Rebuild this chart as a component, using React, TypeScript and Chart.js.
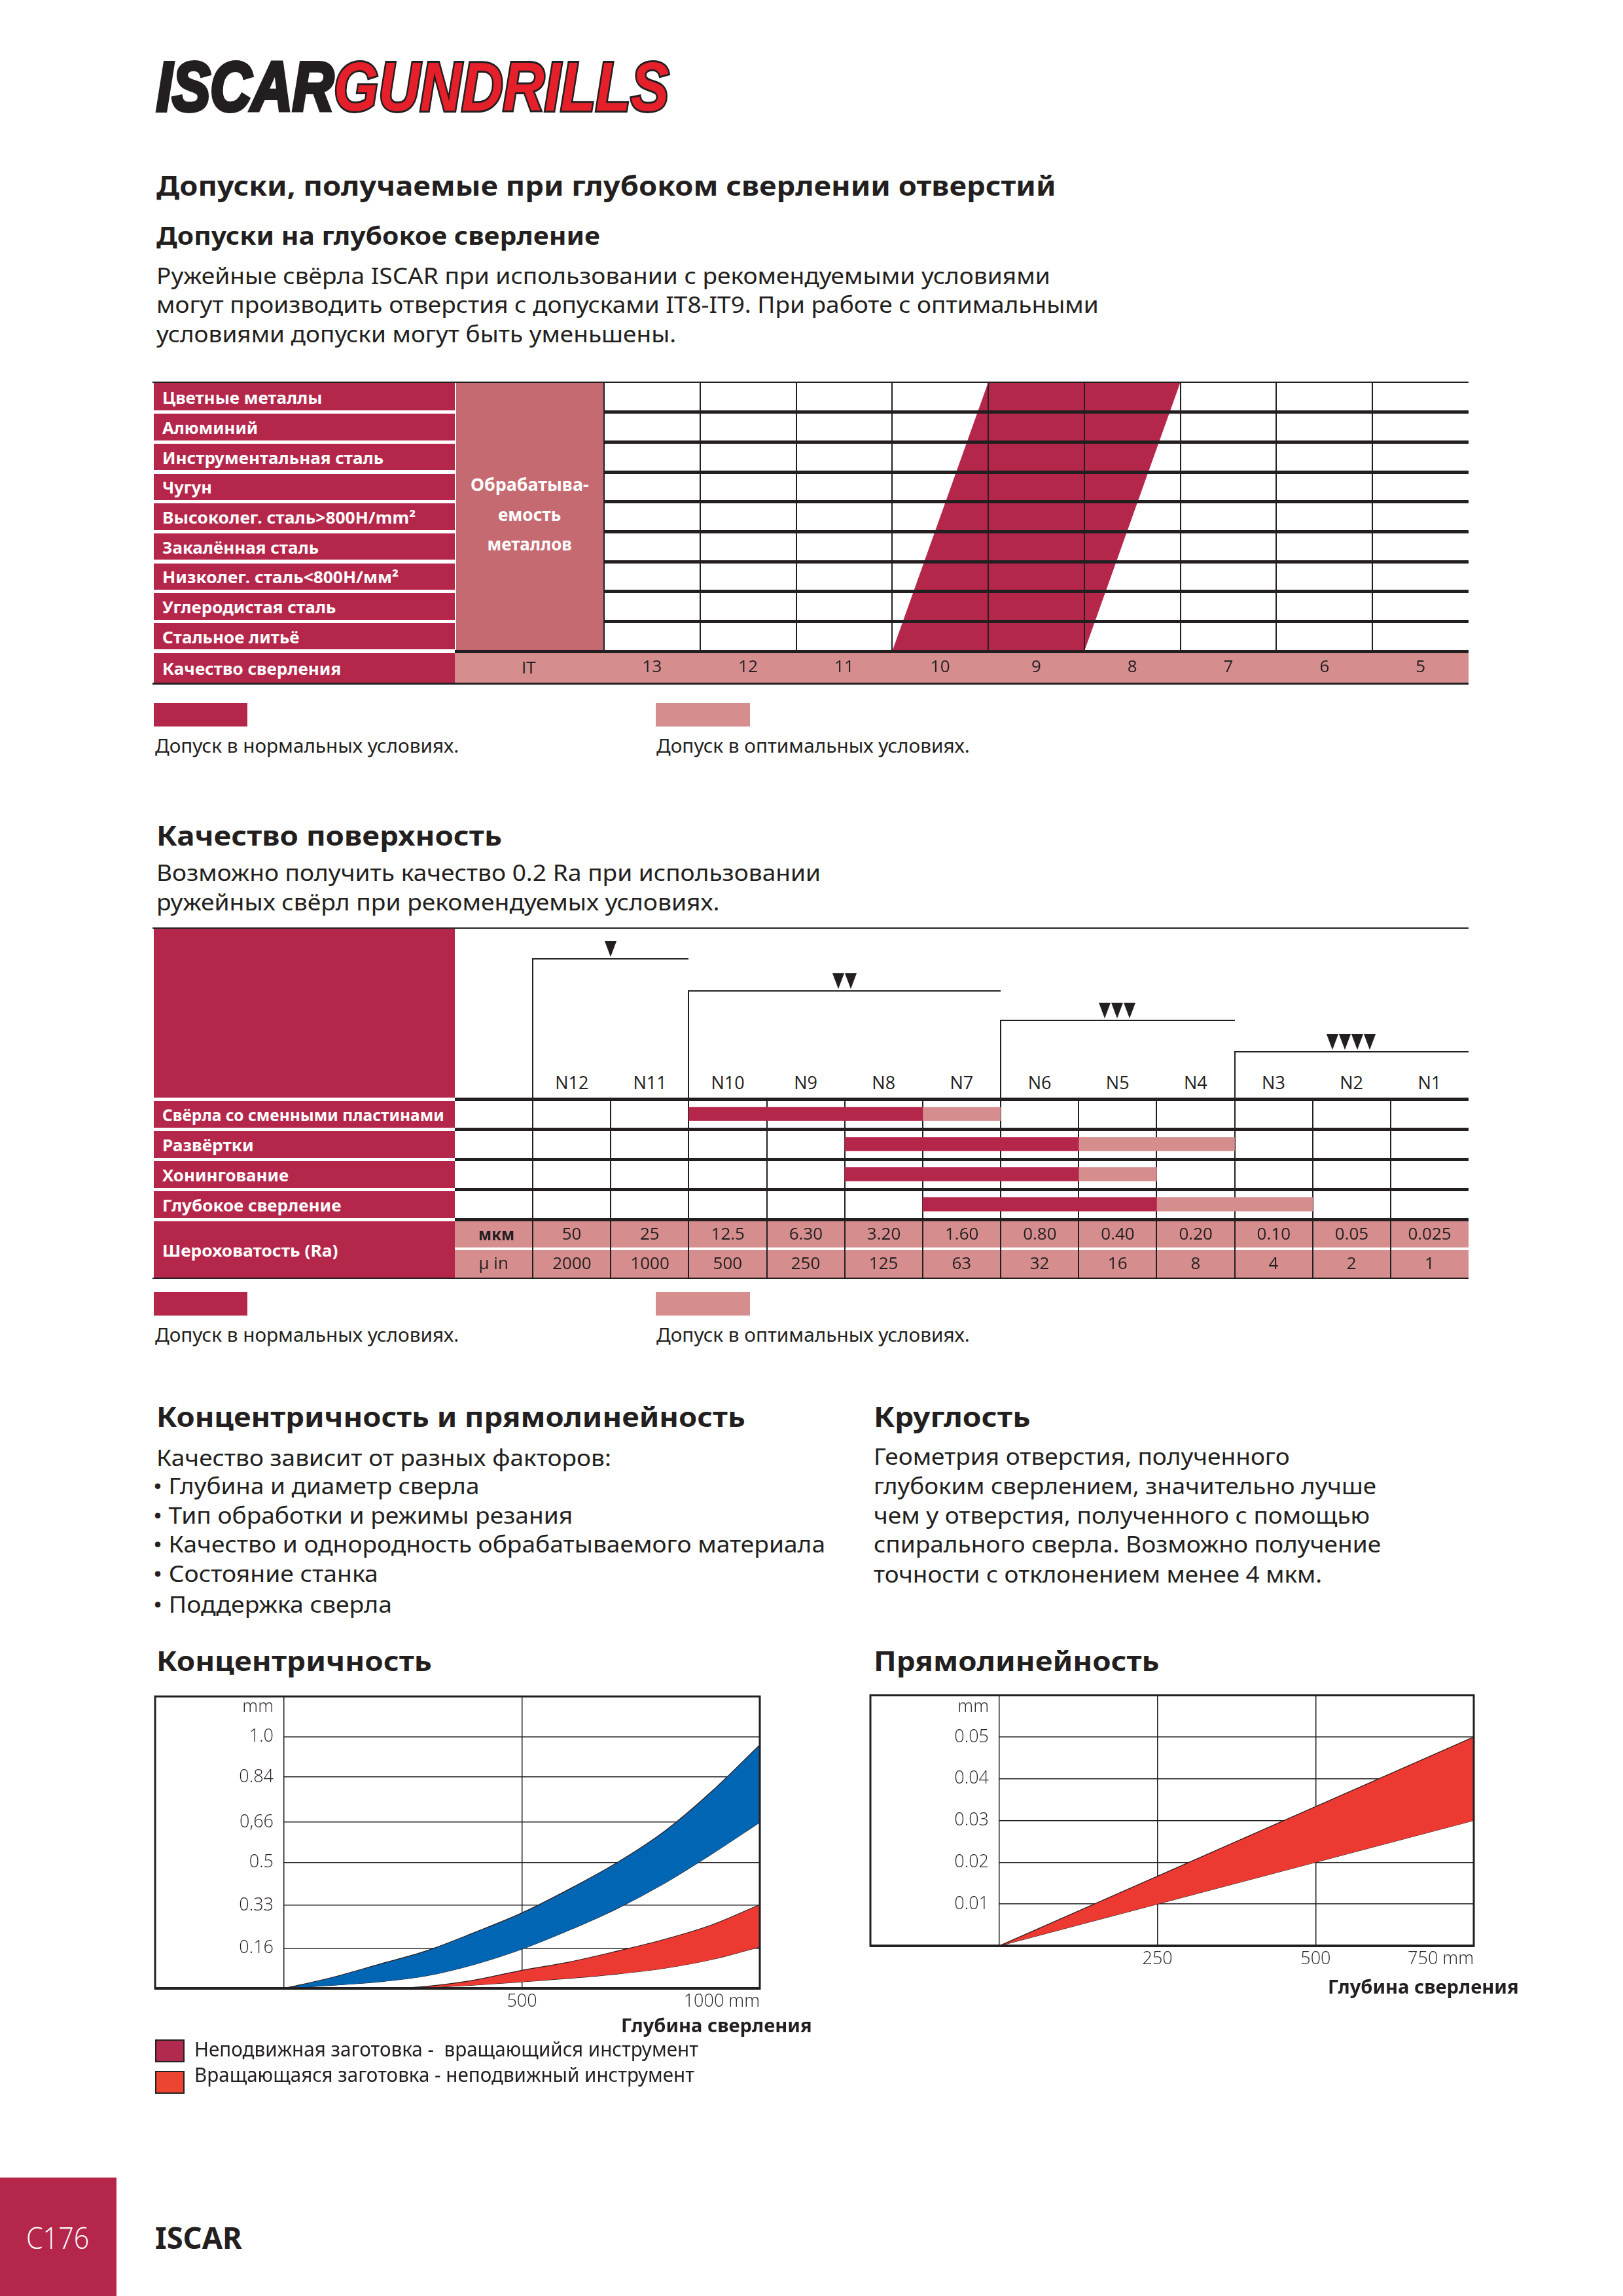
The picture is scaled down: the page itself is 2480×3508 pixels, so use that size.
import React, { useEffect, useLayoutEffect, useRef } from 'react';
import { Chart, registerables } from 'chart.js';

Chart.register(...registerables);

// ---------------- data ----------------
const materials = [
  'Цветные металлы',
  'Алюминий',
  'Инструментальная сталь',
  'Чугун',
  'Высоколег. сталь>800H/mm²',
  'Закалённая сталь',
  'Низколег. сталь<800H/мм²',
  'Углеродистая сталь',
  'Стальное литьё',
];
const itGrades = [13, 12, 11, 10, 9, 8, 7, 6, 5];
// IT grades covered by the normal-conditions band in the first and last material rows
const bandTopRowGrades = [9, 8];
const bandBottomRowGrades = [10, 9];

const processes = ['Свёрла со сменными пластинами', 'Развёртки', 'Хонингование', 'Глубокое сверление'];
const nGrades = ['N12', 'N11', 'N10', 'N9', 'N8', 'N7', 'N6', 'N5', 'N4', 'N3', 'N2', 'N1'];
const normalRange = [['N10', 'N8'], ['N8', 'N6'], ['N8', 'N6'], ['N7', 'N5']];
const optimalRange = [['N7', 'N7'], ['N5', 'N4'], ['N5', 'N5'], ['N4', 'N3']];
const raMkm = ['50', '25', '12.5', '6.30', '3.20', '1.60', '0.80', '0.40', '0.20', '0.10', '0.05', '0.025'];
const raMicroIn = ['2000', '1000', '500', '250', '125', '63', '32', '16', '8', '4', '2', '1'];
const qualityGroups = [
  { from: 'N12', to: 'N11', marks: 1 },
  { from: 'N10', to: 'N7', marks: 2 },
  { from: 'N6', to: 'N4', marks: 3 },
  { from: 'N3', to: 'N1', marks: 4 },
];

const concDepth = [0, 100, 200, 300, 400, 500, 600, 700, 800, 900, 1000];
const concBlueUpper = [0, 0.043, 0.096, 0.15, 0.222, 0.3, 0.395, 0.5, 0.625, 0.785, 0.968];
const concBlueLower = [0, 0.012, 0.026, 0.05, 0.095, 0.156, 0.232, 0.317, 0.418, 0.535, 0.66];
const concRedDepth = [243, 300, 400, 500, 600, 700, 800, 900, 1000];
const concRedUpper = [0, 0.008, 0.033, 0.072, 0.105, 0.148, 0.195, 0.253, 0.333];
const concRedLower = [0, 0.003, 0.013, 0.026, 0.04, 0.057, 0.08, 0.115, 0.165];
const concYTicks = [0.16, 0.33, 0.5, 0.66, 0.84, 1.0];
const concYLabels = ['0.16', '0.33', '0.5', '0,66', '0.84', '1.0'];
const concXTicks = [500, 1000];

const straightDepth = [0, 750];
const straightUpper = [0, 0.05];
const straightLower = [0, 0.03];
const straightYTicks = [0.01, 0.02, 0.03, 0.04, 0.05];
const straightYLabels = ['0.01', '0.02', '0.03', '0.04', '0.05'];
const straightXTicks = [250, 500, 750];

const concFactors = [
  'Качество зависит от разных факторов:',
  '• Глубина и диаметр сверла',
  '• Тип обработки и режимы резания',
  '• Качество и однородность обрабатываемого материала',
  '• Состояние станка',
  '• Поддержка сверла',
];
const roundnessText = [
  'Геометрия отверстия, полученного',
  'глубоким сверлением, значительно лучше',
  'чем у отверстия, полученного с помощью',
  'спирального сверла. Возможно получение',
  'точности с отклонением менее 4 мкм.',
];

// ---------------- styles / layout ----------------
const INK = '#231f20';
const RED = '#b5264b';
const ROSE = '#c66a71';
const PINK = '#d58d8e';
const BLUE = '#0066b3';
const BAND_RED = '#ec3a32';
const NONE = 'rgba(0,0,0,0)';
const SANS = "'Noto Sans', 'Open Sans', 'DejaVu Sans', sans-serif";
const LIGHT = "'Open Sans', 'Noto Sans', sans-serif";
const LOGO = "'Liberation Sans', Arial, sans-serif";
const tickFont = { family: LIGHT, size: 27, weight: '300' as any };

// table 1 geometry
const T1_TOP = 584;
const T1_ROWH = 411 / 9;
const T1_LEFT = 923;
const T1_W = 1321;
const matLabelW = [244, 146, 338, 76, 387, 239, 361, 265, 209];
// table 2 geometry
const T2_LEFT = 695;
const T2_W = 1549;
const COLW = T2_W / 13;
const COL0 = T2_LEFT + COLW;
const T2_ROWS_TOP = 1679;
const T2_ROWH = 46;
const procLabelW = [431, 140, 193, 273];
const bracketLevels = [1465, 1514, 1559, 1607];

// ---------------- helpers ----------------
type TP = {
  x: number; cy: number; w?: number; size: number; weight?: any; color?: string; family?: string;
  k?: number; italic?: boolean; anchor?: 'left' | 'center' | 'right'; style?: any; children: any;
};
function T({ x, cy, w, size, weight = 400, color = INK, family = SANS, k = 0.66, italic, anchor = 'left', style, children }: TP) {
  const ref = useRef<HTMLDivElement>(null);
  useLayoutEffect(() => {
    const fit = () => {
      const el = ref.current;
      if (!el) return;
      const nat = el.offsetWidth;
      const target = w ?? nat;
      const s = nat > 0 ? target / nat : 1;
      let left = x;
      if (anchor === 'center') left = x - target / 2;
      if (anchor === 'right') left = x - target;
      el.style.left = left + 'px';
      el.style.transform = `scaleX(${s})`;
    };
    fit();
    const fonts = (document as any).fonts;
    if (fonts && fonts.ready) fonts.ready.then(fit);
  });
  return (
    <div
      ref={ref}
      style={{
        position: 'absolute', left: x, top: cy - k * size, fontSize: size, lineHeight: 1.2,
        fontFamily: family, fontWeight: weight, color, whiteSpace: 'pre', transformOrigin: 'left top',
        fontStyle: italic ? 'italic' : 'normal', ...style,
      }}
    >
      {children}
    </div>
  );
}

function B({ l, t, w, h, c, style }: any) {
  return <div style={{ position: 'absolute', left: l, top: t, width: w, height: h, background: c, ...style }} />;
}

function ChartCanvas({ left, top, width, height, make }: any) {
  const ref = useRef<HTMLCanvasElement>(null);
  useEffect(() => {
    const chart = new Chart(ref.current as HTMLCanvasElement, make());
    return () => chart.destroy();
  }, []);
  return <canvas ref={ref} width={width} height={height} style={{ position: 'absolute', left, top, width, height }} />;
}

function Marks({ cx, bottom, n }: any) {
  const w = 19;
  const h = 24;
  return (
    <>
      {Array.from({ length: n }).map((_, i) => (
        <div
          key={i}
          style={{
            position: 'absolute', left: cx - (n * w) / 2 + i * w, top: bottom - h, width: 0, height: 0,
            borderLeft: `${w / 2 - 0.5}px solid transparent`, borderRight: `${w / 2 - 0.5}px solid transparent`,
            borderTop: `${h}px solid ${INK}`,
          }}
        />
      ))}
    </>
  );
}

const baseOptions = {
  animation: false,
  responsive: false,
  maintainAspectRatio: false,
  devicePixelRatio: 1,
  events: [],
  plugins: { legend: { display: false }, tooltip: { enabled: false } },
};

function framePlugin(boxLeft: number) {
  return {
    id: 'frame',
    afterDraw(chart: any) {
      const { ctx, chartArea: a } = chart;
      ctx.save();
      ctx.strokeStyle = INK;
      ctx.lineWidth = 3;
      ctx.strokeRect(boxLeft, a.top, a.right - boxLeft, a.bottom - a.top);
      ctx.lineWidth = 4;
      ctx.beginPath();
      ctx.moveTo(boxLeft - 1, a.bottom);
      ctx.lineTo(a.right + 1, a.bottom);
      ctx.stroke();
      ctx.restore();
    },
  };
}

// ---------------- chart configs ----------------
function toleranceConfig(): any {
  const rows = materials.length;
  const poly = [
    { x: bandBottomRowGrades[0] + 0.5, y: 0 },
    { x: bandTopRowGrades[0] + 0.5, y: rows },
    { x: bandTopRowGrades[1] - 0.5, y: rows },
    { x: bandBottomRowGrades[1] - 0.5, y: 0 },
  ];
  return {
    type: 'line',
    data: {
      datasets: [{ data: poly, fill: 'shape', backgroundColor: RED, borderWidth: 0, pointRadius: 0, tension: 0 }],
    },
    options: {
      ...baseOptions,
      layout: { padding: { left: 4, right: 5, top: 4, bottom: 0 } },
      scales: {
        x: {
          type: 'linear', reverse: true,
          min: Math.min(...itGrades) - 0.5, max: Math.max(...itGrades) + 0.5,
          afterBuildTicks: (s: any) => { s.ticks = [...itGrades].sort((a, b) => a - b).map((v) => ({ value: v })); },
          afterFit: (s: any) => { s.height = 50; s.paddingLeft = 0; s.paddingRight = 0; },
          grid: {
            offset: true, drawTicks: false, lineWidth: 2, z: 1,
            color: (c: any) => (c.type === 'tick' && c.index === 0 ? NONE : INK),
          },
          border: { display: false },
          ticks: {
            padding: 9, color: INK, font: { family: LIGHT, size: 26, weight: '400' }, maxRotation: 0, autoSkip: false,
            callback: (v: any) => String(v),
          },
        },
        y: {
          type: 'linear', min: 0, max: rows,
          ticks: { display: false, stepSize: 1 },
          afterFit: (s: any) => { s.width = 0; s.paddingTop = 0; s.paddingBottom = 0; },
          grid: {
            drawTicks: false, color: INK, z: 1,
            lineWidth: (c: any) => (c.tick && c.tick.value === rows ? 2 : 5),
          },
          border: { display: false },
        },
      },
    },
  };
}

function surfaceConfig(): any {
  const idx = (g: string) => nGrades.indexOf(g);
  const toBar = (r: string[]) => [idx(r[0]), idx(r[1]) + 1];
  return {
    type: 'bar',
    data: {
      labels: processes,
      datasets: [
        { label: 'Допуск в нормальных условиях.', data: normalRange.map(toBar), backgroundColor: RED, grouped: false, barThickness: 21, borderWidth: 0 },
        { label: 'Допуск в оптимальных условиях.', data: optimalRange.map(toBar), backgroundColor: PINK, grouped: false, barThickness: 21, borderWidth: 0 },
      ],
    },
    options: {
      ...baseOptions,
      indexAxis: 'y',
      layout: { padding: { left: 4, right: 4, top: 4, bottom: 4 } },
      scales: {
        x: {
          type: 'linear', min: -1, max: nGrades.length,
          ticks: { display: false, stepSize: 1 },
          afterFit: (s: any) => { s.height = 0; s.paddingLeft = 0; s.paddingRight = 0; },
          grid: {
            drawTicks: false, lineWidth: 2,
            color: (c: any) => (c.tick && c.tick.value >= 0 && c.tick.value < nGrades.length ? INK : NONE),
          },
          border: { display: false },
        },
        y: {
          type: 'category', offset: true,
          ticks: { display: false },
          afterFit: (s: any) => { s.width = 0; s.paddingTop = 0; s.paddingBottom = 0; },
          grid: { offset: true, drawTicks: false, lineWidth: 5, color: INK },
          border: { display: false },
        },
      },
    },
  };
}

function bandChartConfig(opts: any): any {
  const { bands, yMax, yTicks, yLabels, unitPos, xMax, xTicks, axisH } = opts;
  const yAll = [0, ...yTicks, unitPos];
  const xAll = [0, ...xTicks];
  const datasets: any[] = [];
  bands.forEach((b: any) => {
    const common = { pointRadius: 0, borderWidth: 1.2, borderColor: '#2b1b1b', cubicInterpolationMode: 'monotone' };
    datasets.push({ ...common, data: b.xs.map((x: number, i: number) => ({ x, y: b.upper[i] })), fill: '+1', backgroundColor: b.color });
    datasets.push({ ...common, data: b.xs.map((x: number, i: number) => ({ x, y: b.lower[i] })), fill: false });
  });
  return {
    type: 'line',
    data: { datasets },
    options: {
      ...baseOptions,
      layout: { padding: { left: 0, right: opts.padRight, top: 7, bottom: 0 } },
      scales: {
        x: {
          type: 'linear', min: 0, max: xMax,
          afterBuildTicks: (s: any) => { s.ticks = xAll.map((v) => ({ value: v })); },
          afterFit: (s: any) => { s.height = axisH; s.paddingLeft = 0; s.paddingRight = 0; },
          ticks: {
            align: 'inner', padding: 4, maxRotation: 0, autoSkip: false, color: INK, font: tickFont,
            callback: (v: any, i: number) => (i === 0 ? '' : i === xAll.length - 1 ? `${v} mm` : String(v)),
          },
          grid: { drawTicks: false, lineWidth: 1.5, color: INK },
          border: { display: false },
        },
        y: {
          type: 'linear', min: 0, max: yMax,
          afterBuildTicks: (s: any) => { s.ticks = yAll.map((v) => ({ value: v })); },
          afterFit: (s: any) => { s.width = 204; s.paddingTop = 0; s.paddingBottom = 0; },
          ticks: {
            padding: 16, color: INK, font: tickFont, autoSkip: false,
            callback: (v: any, i: number) => (i === 0 ? '' : i === yAll.length - 1 ? 'mm' : yLabels[i - 1]),
          },
          grid: {
            drawTicks: false, lineWidth: 1.5,
            color: (c: any) => (c.tick && (c.tick.value === 0 || c.tick.value === unitPos) ? NONE : INK),
          },
          border: { display: false },
        },
      },
    },
    plugins: [framePlugin(7)],
  };
}

function concConfig(): any {
  return bandChartConfig({
    bands: [
      { xs: concDepth, upper: concBlueUpper, lower: concBlueLower, color: BLUE },
      { xs: concRedDepth, upper: concRedUpper, lower: concRedLower, color: BAND_RED },
    ],
    yMax: 1.16, yTicks: concYTicks, yLabels: concYLabels, unitPos: 1.117,
    xMax: 1000, xTicks: concXTicks, axisH: 47, padRight: 19,
  });
}

function straightConfig(): any {
  return bandChartConfig({
    bands: [{ xs: straightDepth, upper: straightUpper, lower: straightLower, color: BAND_RED }],
    yMax: 0.06, yTicks: straightYTicks, yLabels: straightYLabels, unitPos: 0.0572,
    xMax: 750, xTicks: straightXTicks, axisH: 50, padRight: 21,
  });
}

// ---------------- page ----------------
export default function App() {
  useEffect(() => {
    document.body.style.margin = '0';
  }, []);

  const t1Line = (k: number) => T1_TOP + k * T1_ROWH;
  const t2Line = (k: number) => T2_ROWS_TOP + k * T2_ROWH;
  const gIdx = (g: string) => nGrades.indexOf(g);

  return (
    <div style={{ position: 'absolute', left: 0, top: 0, width: 2480, height: 3508, background: '#fff', overflow: 'hidden' }}>
      {/* Logo */}
      <T x={239} cy={131} w={271} size={106} weight={700} italic family={LOGO} k={0.582}
        style={{ WebkitTextStroke: `6px ${INK}`, paintOrder: 'stroke fill', color: INK }}>ISCAR</T>
      <T x={510} cy={131} w={512} size={106} weight={700} italic family={LOGO} k={0.582}
        style={{ WebkitTextStroke: `6px ${INK}`, paintOrder: 'stroke fill', color: '#e5202a' }}>GUNDRILLS</T>

      {/* Intro */}
      <T x={239} cy={286} w={1375} size={42} weight={700}>Допуски, получаемые при глубоком сверлении отверстий</T>
      <T x={239} cy={362} w={678} size={38} weight={700}>Допуски на глубокое сверление</T>
      <T x={239} cy={423} w={1366} size={35}>Ружейные свёрла ISCAR при использовании с рекомендуемыми условиями</T>
      <T x={239} cy={467} w={1440} size={35}>могут производить отверстия с допусками IT8-IT9. При работе с оптимальными</T>
      <T x={239} cy={512} w={794} size={35}>условиями допуски могут быть уменьшены.</T>

      {/* Table 1 */}
      <B l={233} t={583} w={2011} h={2} c={INK} />
      {materials.map((m, i) => {
        const top = i === 0 ? T1_TOP + 1 : t1Line(i) + 2.5;
        const bottom = t1Line(i + 1) - 2.5;
        return <B key={'mc' + i} l={235} t={top} w={460} h={bottom - top} c={RED} />;
      })}
      <B l={697} t={585} w={226} h={408} c={ROSE} />
      <B l={695} t={993} w={230} h={4.5} c={INK} />
      <B l={235} t={997.5} w={460} h={45.5} c={RED} />
      <B l={695} t={997.5} w={1549} h={45.5} c={PINK} />
      <B l={233} t={1043} w={2011} h={2.5} c={INK} />
      <ChartCanvas left={T1_LEFT - 4} top={T1_TOP - 4} width={T1_W + 9} height={4 + 411 + 50} make={toleranceConfig} />
      {materials.map((m, i) => (
        <T key={'mt' + i} x={248} cy={(t1Line(i) + t1Line(i + 1)) / 2 + 2} w={matLabelW[i]} size={25} weight={700} color="#fff">{m}</T>
      ))}
      <T x={248} cy={1022} w={273} size={25} weight={700} color="#fff">Качество сверления</T>
      <T x={809} cy={742} w={181} size={26} weight={700} color="#fff" anchor="center">Обрабатыва-</T>
      <T x={809} cy={788} w={96} size={26} weight={700} color="#fff" anchor="center">емость</T>
      <T x={809} cy={833} w={129} size={26} weight={700} color="#fff" anchor="center">металлов</T>
      <T x={808} cy={1021} size={26} family={LIGHT} weight={400} anchor="center">IT</T>

      {/* Legend 1 */}
      <B l={235} t={1074} w={143} h={36} c={RED} />
      <B l={1002} t={1074} w={144} h={36} c={PINK} />
      <T x={237} cy={1141} w={464} size={29}>Допуск в нормальных условиях.</T>
      <T x={1003} cy={1141} w={479} size={29}>Допуск в оптимальных условиях.</T>

      {/* Surface quality */}
      <T x={239} cy={1279} w={528} size={42} weight={700}>Качество поверхность</T>
      <T x={239} cy={1335} w={1015} size={35}>Возможно получить качество 0.2 Ra при использовании</T>
      <T x={239} cy={1380} w={860} size={35}>ружейных свёрл при рекомендуемых условиях.</T>

      {/* Table 2 */}
      <B l={233} t={1417} w={2011} h={2} c={INK} />
      <B l={235} t={1419} w={460} h={257.5} c={RED} />
      {qualityGroups.map((g, i) => {
        const l = COL0 + gIdx(g.from) * COLW;
        const r = COL0 + (gIdx(g.to) + 1) * COLW;
        const y = bracketLevels[i];
        return (
          <React.Fragment key={'qg' + i}>
            <B l={l - 1} t={y - 1} w={r - l + 1} h={2} c={INK} />
            <B l={l - 1} t={y - 1} w={2} h={T2_ROWS_TOP - y + 1} c={INK} />
            <Marks cx={(l + r) / 2} bottom={y - 3} n={g.marks} />
          </React.Fragment>
        );
      })}
      {nGrades.map((n, i) => (
        <T key={'ng' + i} x={COL0 + (i + 0.5) * COLW} cy={1656} size={27} family={LIGHT} weight={400} anchor="center">{n}</T>
      ))}
      {processes.map((p, i) => {
        const top = t2Line(i) + 2.5;
        const bottom = t2Line(i + 1) - 2.5;
        return <B key={'pc' + i} l={235} t={top} w={460} h={bottom - top} c={RED} />;
      })}
      <ChartCanvas left={T2_LEFT - 4} top={T2_ROWS_TOP - 4} width={T2_W + 8} height={4 * T2_ROWH + 8} make={surfaceConfig} />
      {processes.map((p, i) => (
        <T key={'pt' + i} x={248} cy={(t2Line(i) + t2Line(i + 1)) / 2 + 2} w={procLabelW[i]} size={25} weight={700} color="#fff">{p}</T>
      ))}
      <B l={235} t={1865.5} w={460} h={86} c={RED} />
      <B l={695} t={1865.5} w={1549} h={40} c={PINK} />
      <B l={695} t={1909.5} w={1549} h={42} c={PINK} />
      {nGrades.map((n, i) => (
        <B key={'rv' + i} l={COL0 + i * COLW - 1} t={1863} w={2} h={90} c={INK} />
      ))}
      <B l={233} t={1951.5} w={2011} h={2.5} c={INK} />
      <T x={248} cy={1911} w={268} size={25} weight={700} color="#fff">Шероховатость (Ra)</T>
      <T x={758} cy={1886} w={55} size={25} weight={700} anchor="center">мкм</T>
      <T x={754} cy={1931} size={26} family={LIGHT} weight={400} anchor="center">µ in</T>
      {raMkm.map((v, i) => (
        <T key={'ra' + i} x={COL0 + (i + 0.5) * COLW} cy={1886} size={26} family={LIGHT} weight={400} anchor="center">{v}</T>
      ))}
      {raMicroIn.map((v, i) => (
        <T key={'ri' + i} x={COL0 + (i + 0.5) * COLW} cy={1931} size={26} family={LIGHT} weight={400} anchor="center">{v}</T>
      ))}

      {/* Legend 2 */}
      <B l={235} t={1974} w={143} h={36} c={RED} />
      <B l={1002} t={1974} w={144} h={36} c={PINK} />
      <T x={237} cy={2041} w={464} size={29}>Допуск в нормальных условиях.</T>
      <T x={1003} cy={2041} w={479} size={29}>Допуск в оптимальных условиях.</T>

      {/* Concentricity & roundness text */}
      <T x={239} cy={2167} w={900} size={42} weight={700}>Концентричность и прямолинейность</T>
      <T x={1335} cy={2167} w={239} size={42} weight={700}>Круглость</T>
      {concFactors.map((s, i) => {
        const cys = [2229, 2272, 2317, 2361, 2406, 2453];
        const ws = [695, 498, 641, 1027, 344, 365];
        return <T key={'cf' + i} x={i === 0 ? 239 : 234} cy={cys[i]} w={ws[i]} size={35}>{s}</T>;
      })}
      {roundnessText.map((s, i) => {
        const cys = [2227, 2272, 2317, 2361, 2407];
        const ws = [636, 768, 758, 775, 685];
        return <T key={'rt' + i} x={1335} cy={cys[i]} w={ws[i]} size={35}>{s}</T>;
      })}

      <T x={239} cy={2540} w={421} size={42} weight={700}>Концентричность</T>
      <T x={1335} cy={2540} w={436} size={42} weight={700}>Прямолинейность</T>

      <ChartCanvas left={230} top={2585} width={950} height={500} make={concConfig} />
      <ChartCanvas left={1323} top={2583} width={950} height={440} make={straightConfig} />

      <T x={1241} cy={3096} w={292} size={29} weight={700} anchor="right">Глубина сверления</T>
      <T x={2321} cy={3037} w={292} size={29} weight={700} anchor="right">Глубина сверления</T>

      <B l={237} t={3116} w={45} h={35} c="#b02b4d" style={{ boxSizing: 'border-box', border: `2px solid ${INK}` }} />
      <B l={237} t={3164} w={45} h={35} c="#ee4530" style={{ boxSizing: 'border-box', border: `2px solid ${INK}` }} />
      <T x={297} cy={3133} w={770} size={30}>Неподвижная заготовка -  вращающийся инструмент</T>
      <T x={297} cy={3172} w={764} size={30}>Вращающаяся заготовка - неподвижный инструмент</T>

      {/* Footer */}
      <B l={0} t={3327} w={178} h={181} c={RED} />
      <T x={40} cy={3420} w={96} size={46} weight={300} family={LIGHT} color="#fff" k={0.63}>C176</T>
      <T x={237} cy={3420} w={133} size={46} weight={700} k={0.63}>ISCAR</T>
    </div>
  );
}
